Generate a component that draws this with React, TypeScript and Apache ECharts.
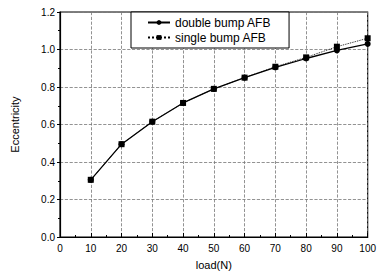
import React, { useEffect, useRef } from "react";
import * as echarts from "echarts";

const loads = [10, 20, 30, 40, 50, 60, 70, 80, 90, 100];
const doubleBump = [0.305, 0.495, 0.615, 0.715, 0.79, 0.85, 0.905, 0.952, 0.995, 1.03];
const singleBump = [0.305, 0.495, 0.615, 0.715, 0.79, 0.85, 0.908, 0.958, 1.015, 1.06];
const seriesNames = ["double bump AFB", "single bump AFB"];

export default function App() {
  const ref = useRef<HTMLDivElement>(null);
  useEffect(() => {
    if (!ref.current) return;
    const chart = echarts.init(ref.current, undefined, { renderer: "svg" });
    const font = "Liberation Sans";
    chart.setOption({
      animation: false,
      backgroundColor: "#fff",
      textStyle: { fontFamily: font },
      grid: { left: 60, right: 11, top: 12, bottom: 34, show: true, borderColor: "#000", borderWidth: 1.2 },
      legend: {
        orient: "vertical",
        left: 131,
        top: 12,
        backgroundColor: "#fff",
        borderColor: "#000",
        borderWidth: 1,
        padding: [4, 18, 4, 16],
        itemGap: 2,
        itemWidth: 22,
        itemHeight: 6,
        textStyle: { fontSize: 12, lineHeight: 13, color: "#000", fontFamily: font },
        data: seriesNames,
      },
      xAxis: {
        type: "value",
        min: 0,
        max: 100,
        interval: 10,
        name: "load(N)",
        nameLocation: "middle",
        nameGap: 22,
        nameTextStyle: { fontSize: 11, color: "#000", fontFamily: font },
        axisLine: { lineStyle: { color: "#000", width: 1.2 } },
        axisTick: { inside: true, length: 4, lineStyle: { color: "#000" } },
        minorTick: { show: true, splitNumber: 2, length: 2, lineStyle: { color: "#000" } },
        axisLabel: { fontSize: 10, color: "#000", margin: 6, fontFamily: font },
        splitLine: { show: true, lineStyle: { color: "#777", type: "dashed", width: 0.8 } },
      },
      yAxis: {
        type: "value",
        min: 0,
        max: 1.2,
        interval: 0.2,
        name: "Eccentricity",
        nameLocation: "middle",
        nameGap: 40,
        nameTextStyle: { fontSize: 11, color: "#000", fontFamily: font },
        axisLine: { show: true, lineStyle: { color: "#000", width: 1.2 } },
        axisTick: { show: true, inside: false, length: 3, lineStyle: { color: "#000" } },
        minorTick: { show: true, splitNumber: 2, length: 2, lineStyle: { color: "#000" } },
        axisLabel: { fontSize: 10, color: "#000", margin: 5, fontFamily: font, formatter: (v: number) => v.toFixed(1) },
        splitLine: { show: true, lineStyle: { color: "#777", type: "dashed", width: 0.8 } },
      },
      series: [
        {
          name: seriesNames[0],
          type: "line",
          data: loads.map((x, i) => [x, doubleBump[i]]),
          symbol: "circle",
          symbolSize: 6,
          itemStyle: { color: "#000" },
          lineStyle: { color: "#000", width: 1.3 },
        },
        {
          name: seriesNames[1],
          type: "line",
          data: loads.map((x, i) => [x, singleBump[i]]),
          symbol: "rect",
          symbolSize: 6,
          itemStyle: { color: "#000" },
          lineStyle: { color: "#000", width: 0.9, type: "dotted" },
        },
      ],
    });
    return () => chart.dispose();
  }, []);
  return <div ref={ref} style={{ width: 379, height: 275, position: "absolute", left: 0, top: 0 }} />;
}
